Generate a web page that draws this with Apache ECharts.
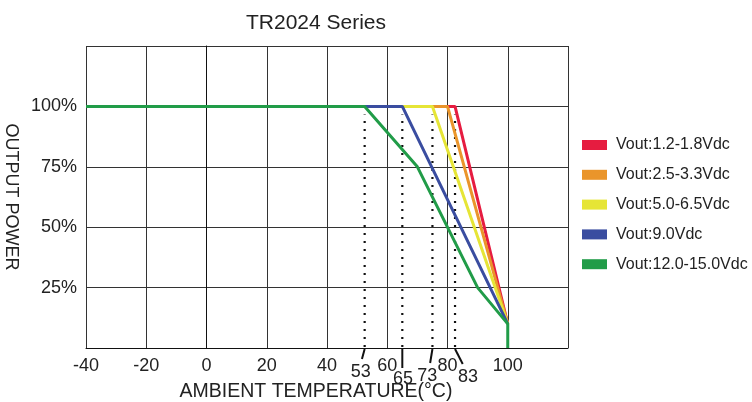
<!DOCTYPE html>
<html>
<head>
<meta charset="utf-8">
<script src="https://cdn.jsdelivr.net/npm/echarts@6/dist/echarts.min.js"></script>
<style>html,body{margin:0;padding:0;background:#fff;}#c{width:752px;height:402px;}</style>
</head>
<body>
<div id="c"></div>
<script>
// ---- data ----
var seriesNames = ['Vout:1.2-1.8Vdc', 'Vout:2.5-3.3Vdc', 'Vout:5.0-6.5Vdc', 'Vout:9.0Vdc', 'Vout:12.0-15.0Vdc'];
var redData    = [[-40, 100], [82.5, 100], [100, 10]];
var orangeData = [[-40, 100], [80, 100], [100, 10]];
var yellowData = [[-40, 100], [75, 100], [100, 10]];
var blueData   = [[-40, 100], [65, 100], [100, 10]];
var greenData  = [[-40, 100], [52.5, 100], [70, 75], [90, 25], [100, 10], [100, 0]];
var yTicks = [25, 50, 75, 100];
var xTicks = [-40, -20, 0, 20, 40, 60, 80, 100];
var annotTemps = [52.5, 65, 75, 82.5];
var annotLabels = ['53', '65', '73', '83'];

// ---- styles ----
var colors = ['#e61c40', '#ea952b', '#e6e536', '#3a4da0', '#219c48'];
var FONT = 'Liberation Sans, Arial, Helvetica, sans-serif';
var annotStyle = [
  {dx: -2.7, dy: 11, tx: -4, ty: 24},
  {dx: 0, dy: 20, tx: 0.7, ty: 31},
  {dx: -2.3, dy: 15, tx: -5.3, ty: 28},
  {dx: 7.7, dy: 16, tx: 13, ty: 29}
];

var chart = echarts.init(document.getElementById('c'));
var allData = [redData, orangeData, yellowData, blueData, greenData];
var lineSeries = allData.map(function (d, i) {
  return {
    name: seriesNames[i], type: 'line', data: d, showSymbol: false, symbol: 'none',
    lineStyle: {width: 3, color: colors[i]}, itemStyle: {color: colors[i]},
    z: 3 + i, animation: false
  };
});

var annotSeries = {
  type: 'custom', clip: false, z: 2, animation: false, silent: true,
  data: annotTemps.map(function (t, i) { return [t, i]; }),
  renderItem: function (params, api) {
    var t = api.value(0), i = api.value(1);
    var s = annotStyle[i];
    var p = api.coord([t, 0]);
    var top = api.coord([t, 100]);
    return {
      type: 'group',
      children: [
        {type: 'line', shape: {x1: p[0], y1: p[1] - 1, x2: p[0], y2: top[1] + 8},
          style: {stroke: '#111', lineWidth: 2.2, lineDash: [2, 6], lineCap: 'butt'}},
        {type: 'line', shape: {x1: p[0], y1: p[1] + 1, x2: p[0] + s.dx, y2: p[1] + s.dy},
          style: {stroke: '#111', lineWidth: 2}},
        {type: 'text', style: {text: annotLabels[i], x: p[0] + s.tx, y: p[1] + s.ty,
          align: 'center', verticalAlign: 'middle', fill: '#222', font: '18px ' + FONT}}
      ]
    };
  }
};

chart.setOption({
  animation: false,
  backgroundColor: '#fff',
  title: {text: 'TR2024 Series', left: 311, top: 8, textAlign: 'center',
    textStyle: {fontSize: 21, fontWeight: 'normal', color: '#222', fontFamily: FONT}},
  legend: {
    data: seriesNames, orient: 'vertical', left: 577, top: 132, icon: 'rect',
    itemWidth: 25, itemHeight: 10, itemGap: 13.8,
    textStyle: {fontSize: 16, color: '#222', fontFamily: FONT, padding: [0, 0, 0, 4]}
  },
  grid: {left: 86, right: 184, top: 46, bottom: 54, containLabel: false, outerBoundsMode: 'none'},
  xAxis: {
    type: 'value', min: -40, max: 120, interval: 20,
    name: 'AMBIENT TEMPERATURE(°C)', nameLocation: 'middle', nameGap: 34,
    nameTextStyle: {fontSize: 19.5, color: '#222', fontFamily: FONT, padding: [0, 22, 0, 0]},
    axisLine: {show: true, lineStyle: {color: '#111', width: 1}},
    axisTick: {show: false},
    axisLabel: {fontSize: 18, color: '#222', fontFamily: FONT, margin: 9,
      formatter: function (v) { return xTicks.indexOf(v) >= 0 ? String(v) : ''; }},
    splitLine: {show: true, lineStyle: {color: '#333', width: 1}}
  },
  yAxis: {
    type: 'value', min: 0, max: 125, interval: 25,
    name: 'OUTPUT POWER', nameLocation: 'middle', nameGap: 60, nameRotate: -90,
    nameTextStyle: {fontSize: 18, color: '#222', fontFamily: FONT},
    axisLine: {show: true, lineStyle: {color: '#111', width: 1}},
    axisTick: {show: false},
    axisLabel: {fontSize: 18, color: '#222', fontFamily: FONT, margin: 9,
      formatter: function (v) { return yTicks.indexOf(v) >= 0 ? v + '%' : ''; }},
    splitLine: {show: true, lineStyle: {color: '#333', width: 1}}
  },
  series: lineSeries.concat([annotSeries])
});
</script>
</body>
</html>
